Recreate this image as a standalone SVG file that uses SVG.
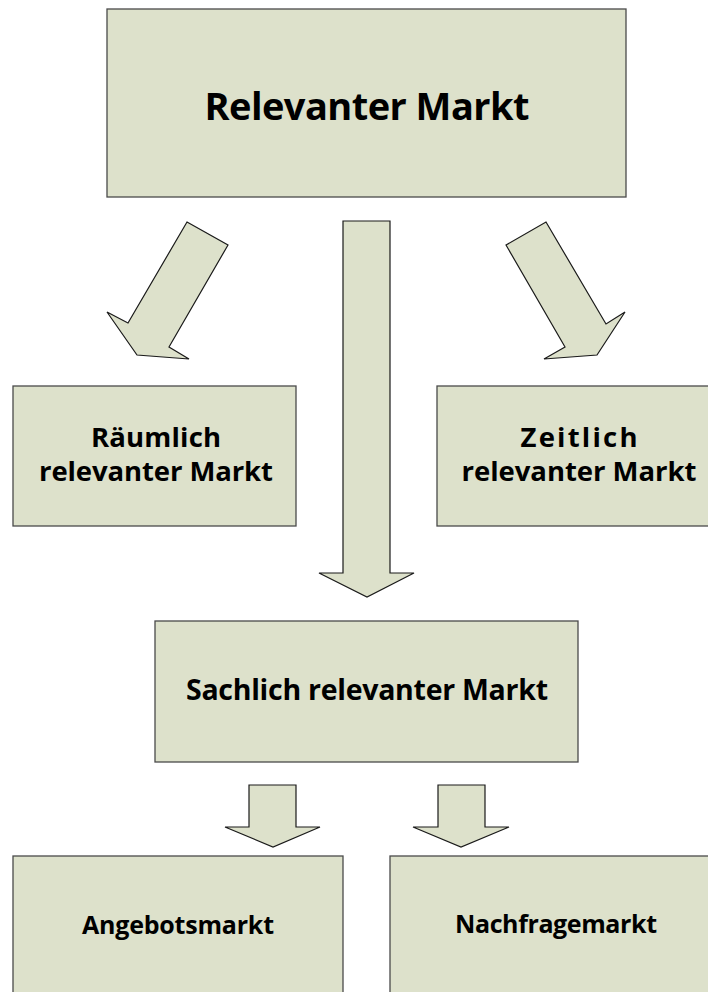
<svg xmlns="http://www.w3.org/2000/svg" width="708" height="992" viewBox="0 0 708 992">
<style>
.box{fill:#dde1cb;stroke:#4a4a4a;stroke-width:1.3}
.arr{fill:#dde1cb;stroke:#1a1a1a;stroke-width:1.2;stroke-linejoin:miter}
.t{font-family:"Open Sans","Liberation Sans",sans-serif;font-weight:bold;fill:#000;text-anchor:middle}
</style>
<rect width="708" height="992" fill="#fff"/>
<g id="relevanter-markt">
<rect class="box" x="107" y="9" width="519" height="188"/>
<text class="t" x="367" y="120" font-size="38" textLength="325">Relevanter Markt</text>
</g>
<g id="raeumlich">
<rect class="box" x="13" y="386" width="283" height="140"/>
<text class="t" x="156" y="447" font-size="27.5" textLength="130">Räumlich</text>
<text class="t" x="156" y="481" font-size="27.5" textLength="234">relevanter Markt</text>
</g>
<g id="zeitlich">
<rect class="box" x="437" y="386" width="290" height="140"/>
<text class="t" x="579" y="447" font-size="27.5" textLength="117">Zeitlich</text>
<text class="t" x="579" y="481" font-size="27.5" textLength="235">relevanter Markt</text>
</g>
<g id="sachlich">
<rect class="box" x="155" y="621" width="423" height="141"/>
<text class="t" x="367" y="700" font-size="28.5" textLength="362">Sachlich relevanter Markt</text>
</g>
<g id="angebotsmarkt">
<rect class="box" x="13" y="856" width="330" height="150"/>
<text class="t" x="178" y="934" font-size="25" textLength="192">Angebotsmarkt</text>
</g>
<g id="nachfragemarkt">
<rect class="box" x="390" y="856" width="340" height="150"/>
<text class="t" x="556" y="933" font-size="25" textLength="202">Nachfragemarkt</text>
</g>
<g id="connectors">
<polygon class="arr" points="187,222 228,245 169,347 189,359 137,355 107,312 128,323"/>
<polygon class="arr" points="506,245 546,222 606,324 625,312 597,355 544,359 565,347"/>
<polygon class="arr" points="343,221 390,221 390,573 414,573 367,597 319,573 343,573"/>
<polygon class="arr" points="249,785 296,785 296,827 320,827 273,847 225,827 249,827"/>
<polygon class="arr" points="438,785 485,785 485,827 509,827 461,847 413,827 438,827"/>
</g>
</svg>
